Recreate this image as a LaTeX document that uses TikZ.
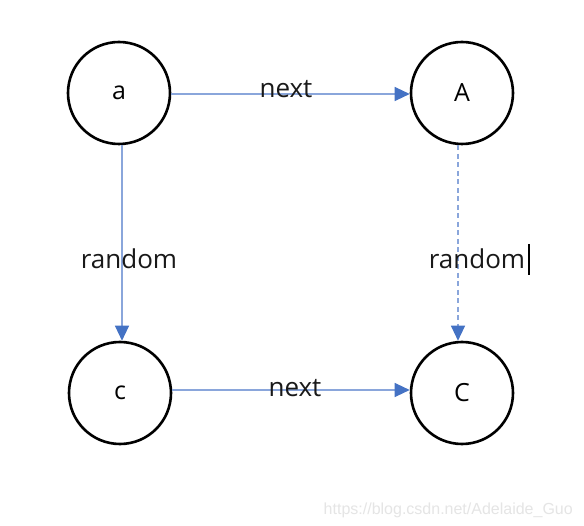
\documentclass[tikz,border=0pt]{standalone}
\usepackage{fontspec}
\setmainfont{Open Sans}
\newfontfamily\wmfont{Liberation Sans}
\usetikzlibrary{arrows.meta}
\definecolor{arrblue}{HTML}{4472C4}
\definecolor{lineblue}{HTML}{8AA6DB}
\begin{document}
\begin{tikzpicture}[x=1pt,y=-1pt,
  vertex/.style={circle,draw=black,line width=2.6pt,minimum size=102pt,inner sep=0pt,font=\fontsize{25}{28}\selectfont},
  link/.style={draw=lineblue,line width=1.2pt,-{Triangle[length=15pt,width=14pt,fill=arrblue,color=arrblue]}},
  dashlink/.style={link,dash pattern=on 5pt off 3.5pt},
  lbl/.style={inner sep=0pt,font=\fontsize{26}{30}\selectfont,text=black!90}]
\useasboundingbox (0,0) rectangle (584,526);
\fill[white] (0,0) rectangle (584,526);
\node[vertex] (a) at (119,93) {a};
\node[vertex] (A) at (462,93) {A};
\node[vertex] (c) at (120,393) {c};
\node[vertex] (C) at (462,393) {C};
\draw[link] (a.east |- 0,94) -- (A.west |- 0,94);
\draw[link] (c.east |- 0,390) -- (C.west |- 0,390);
\draw[link] (a.south -| 122,0) -- (c.north -| 122,0);
\draw[dashlink] (A.south -| 458,0) -- (C.north -| 458,0);
\node[lbl] (n1) at (286,89) {next};
\node[lbl] (n2) at (295,388) {next};
\node[lbl] (r1) at (129,259) {random};
\node[lbl] (r2) at (477,259) {random};
\coordinate (cur1) at (529,244);
\coordinate (cur2) at (529,275);
\draw[line width=1.5pt] (cur1) -- (cur2);
\node[font=\wmfont\fontsize{16}{18}\selectfont,text=black!10,anchor=east,inner sep=0pt] (wm) at (573,510) {https://blog.csdn.net/Adelaide\_Guo};
\end{tikzpicture}
\end{document}
